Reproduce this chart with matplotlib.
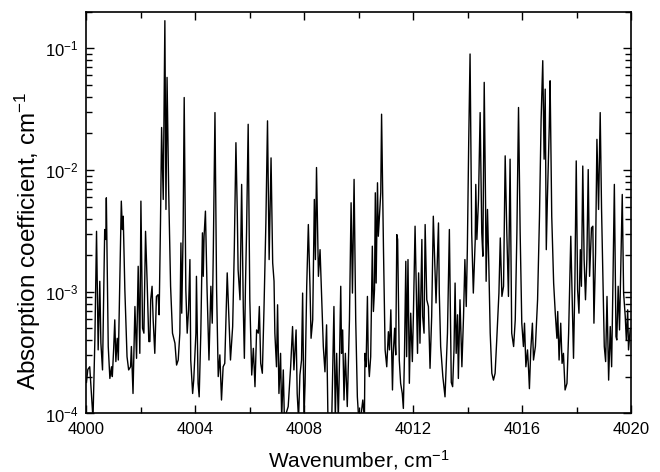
import matplotlib
matplotlib.use("Agg")
import matplotlib.pyplot as plt
from matplotlib.ticker import MultipleLocator, LogLocator, NullFormatter

plt.rcParams['font.family'] = ['Liberation Sans', 'DejaVu Sans']
plt.rcParams['mathtext.fontset'] = 'custom'
plt.rcParams['mathtext.rm'] = 'Liberation Sans'
plt.rcParams['mathtext.it'] = 'Liberation Sans:italic'
plt.rcParams['mathtext.default'] = 'regular'

# spectrum (peaks and valleys), cm-1 / cm-1
wavenumber = [
    4000.00, 4000.05, 4000.12, 4000.24, 4000.31, 4000.37, 4000.43, 4000.49, 4000.53, 4000.59,
    4000.67, 4000.71, 4000.73, 4000.80, 4000.86, 4000.92, 4000.95, 4001.00, 4001.04, 4001.08,
    4001.13, 4001.17, 4001.28, 4001.32, 4001.35, 4001.41, 4001.49, 4001.55, 4001.62, 4001.65,
    4001.71, 4001.78, 4001.84, 4001.90, 4001.96, 4002.00, 4002.06, 4002.11, 4002.17, 4002.23,
    4002.29, 4002.33, 4002.36, 4002.41, 4002.45, 4002.51, 4002.57, 4002.63, 4002.67, 4002.72,
    4002.76, 4002.82, 4002.88, 4002.92, 4002.96, 4003.02, 4003.09, 4003.16, 4003.25, 4003.31,
    4003.37, 4003.43, 4003.47, 4003.50, 4003.55, 4003.59,
    4003.65, 4003.70, 4003.75, 4003.80, 4003.83, 4003.90, 4003.94, 4004.02, 4004.04, 4004.10,
    4004.14, 4004.20, 4004.26, 4004.29, 4004.32, 4004.37, 4004.43, 4004.50, 4004.57, 4004.62,
    4004.66, 4004.72, 4004.78, 4004.84, 4004.90, 4004.96, 4005.02, 4005.08, 4005.17, 4005.23,
    4005.29, 4005.37, 4005.43, 4005.49, 4005.54, 4005.57, 4005.64, 4005.70, 4005.76, 4005.80,
    4005.84, 4005.88, 4005.94, 4006.00, 4006.07, 4006.13, 4006.19, 4006.25, 4006.31, 4006.35,
    4006.40, 4006.46, 4006.52, 4006.59, 4006.65, 4006.71, 4006.78,
    4006.84, 4006.89, 4006.92, 4006.98, 4007.02, 4007.07, 4007.13, 4007.17, 4007.23, 4007.27,
    4007.41, 4007.50, 4007.57, 4007.62, 4007.70, 4007.74, 4007.79, 4007.84, 4007.90, 4007.94,
    4007.99, 4008.03, 4008.09, 4008.15, 4008.21, 4008.25, 4008.31, 4008.37, 4008.41, 4008.45,
    4008.52, 4008.58, 4008.64, 4008.70, 4008.76, 4008.82, 4008.87, 4009.01, 4009.09, 4009.14,
    4009.19, 4009.25, 4009.29, 4009.34, 4009.37, 4009.41, 4009.46, 4009.51, 4009.58, 4009.66,
    4009.72, 4009.77, 4009.83, 4009.89, 4009.95, 4010.00, 4010.07, 4010.15, 4010.21,
    4010.23, 4010.27, 4010.32, 4010.35, 4010.39, 4010.44, 4010.50, 4010.54, 4010.58, 4010.61,
    4010.64, 4010.69, 4010.72, 4010.76, 4010.81, 4010.84, 4010.91, 4010.97, 4011.03, 4011.09,
    4011.13, 4011.18, 4011.24, 4011.27, 4011.32, 4011.36, 4011.40, 4011.43, 4011.49, 4011.54,
    4011.60, 4011.64, 4011.68, 4011.73, 4011.76, 4011.81, 4011.86, 4011.91, 4011.97, 4012.01,
    4012.07, 4012.11, 4012.16, 4012.20, 4012.25, 4012.32, 4012.35, 4012.40, 4012.44, 4012.50,
    4012.56, 4012.62, 4012.68, 4012.74, 4012.80, 4012.84, 4012.93, 4012.96, 4013.01, 4013.09,
    4013.17, 4013.26, 4013.33, 4013.40,
    4013.45, 4013.50, 4013.54, 4013.58, 4013.63, 4013.66, 4013.72, 4013.79, 4013.85, 4013.90,
    4013.95, 4013.99, 4014.04, 4014.09, 4014.15, 4014.21, 4014.28, 4014.30, 4014.34, 4014.40,
    4014.46, 4014.52, 4014.56, 4014.61, 4014.66, 4014.68, 4014.73, 4014.78, 4014.83, 4014.89,
    4014.95, 4015.01, 4015.07, 4015.15, 4015.20, 4015.26, 4015.32, 4015.38, 4015.44, 4015.50,
    4015.56, 4015.62, 4015.69, 4015.75, 4015.81, 4015.87, 4015.93, 4015.99, 4016.05, 4016.09,
    4016.14, 4016.20, 4016.24, 4016.27, 4016.32, 4016.38, 4016.42, 4016.49, 4016.57, 4016.64,
    4016.70, 4016.76,
    4016.81, 4016.85, 4016.89, 4016.93, 4017.00, 4017.03, 4017.09, 4017.16, 4017.22, 4017.28,
    4017.31, 4017.36, 4017.42, 4017.47, 4017.52, 4017.58, 4017.65, 4017.71, 4017.79, 4017.85,
    4017.89, 4017.94, 4017.99, 4018.04, 4018.09, 4018.14, 4018.18, 4018.23, 4018.28, 4018.33,
    4018.38, 4018.43, 4018.48, 4018.55, 4018.60, 4018.64, 4018.70, 4018.75, 4018.81, 4018.87,
    4018.92, 4018.97, 4019.02, 4019.07, 4019.12, 4019.18, 4019.24, 4019.29, 4019.34, 4019.39,
    4019.45, 4019.48, 4019.53, 4019.58, 4019.63, 4019.68, 4019.73, 4019.79, 4019.83, 4019.88,
    4019.91, 4019.97, 4020.00,
]
absorption = [
    1.8e-4, 2.3e-4, 2.42e-4, 9.0e-5, 4.15e-4, 3.14e-3, 3.33e-4, 1.22e-3, 3.78e-4, 2.28e-4,
    3.25e-3, 2.69e-3, 5.92e-3, 3.55e-4, 1.94e-4, 2.42e-4, 2.01e-4, 3.43e-4, 5.88e-4, 2.67e-4,
    4.15e-4, 2.75e-4, 5.56e-3, 3.25e-3, 4.18e-3, 1.04e-3, 2.93e-4, 2.28e-4, 2.42e-4, 3.55e-4,
    1.46e-4, 7.57e-4, 2.84e-4, 1.62e-3, 3.12e-4, 5.56e-3, 5.02e-4, 4.57e-4, 3.14e-3, 1.18e-3,
    3.90e-4, 3.90e-4, 8.60e-4, 1.11e-3, 5.88e-4, 3.12e-4, 9.16e-4, 9.46e-4, 6.47e-4, 3.80e-3,
    2.24e-2, 5.74e-3, 1.69e-1, 4.75e-3, 5.78e-2, 6.72e-3, 1.11e-3, 4.57e-4, 3.78e-4, 2.50e-4,
    2.75e-4, 4.57e-4, 2.52e-3, 6.67e-4, 3.05e-3, 3.95e-2,
    1.04e-3, 4.57e-4, 7.11e-4, 1.84e-3, 2.75e-4, 1.46e-4, 1.88e-4, 4.57e-4, 1.34e-3, 1.77e-4,
    1.37e-4, 4.57e-4, 3.05e-3, 1.34e-3, 2.86e-3, 4.60e-3, 1.04e-3, 2.75e-4, 1.11e-3, 5.52e-4,
    2.22e-3, 2.97e-2, 1.04e-3, 2.01e-4, 3.03e-4, 1.29e-4, 2.42e-4, 2.58e-4, 1.43e-3, 6.26e-4,
    2.75e-4, 5.18e-4, 2.22e-3, 1.68e-2, 4.45e-3, 1.52e-3, 8.60e-4, 7.63e-3, 7.57e-4, 2.84e-4,
    1.11e-3, 3.05e-3, 2.38e-2, 8.60e-4, 2.07e-4, 3.43e-4, 1.66e-4, 4.86e-4, 4.57e-4, 7.57e-4,
    2.58e-4, 2.14e-4, 7.11e-4, 3.68e-3, 2.54e-2, 1.84e-3, 1.26e-2,
    1.73e-3, 1.22e-3, 4.57e-4, 2.42e-4, 7.82e-4, 1.46e-4, 3.12e-4, 9.0e-5, 2.28e-4, 9.0e-5,
    1.14e-4, 2.42e-4, 5.18e-4, 2.28e-4, 4.86e-4, 1.46e-4, 9.0e-5, 2.07e-4, 2.75e-4, 9.76e-4,
    9.0e-5, 1.77e-4, 1.11e-3, 3.57e-3, 1.11e-3, 4.15e-4, 5.88e-4, 5.74e-3, 1.84e-3, 1.05e-2,
    1.34e-3, 2.22e-3, 8.60e-4, 3.55e-4, 2.20e-4, 5.35e-4, 9.0e-5, 9.0e-5, 7.57e-4, 9.0e-5,
    3.12e-4, 9.0e-5, 2.42e-4, 1.11e-3, 3.12e-4, 4.86e-4, 1.29e-4, 3.12e-4, 1.14e-4, 5.88e-4,
    5.39e-3, 9.76e-4, 8.39e-3, 5.88e-4, 1.37e-4, 9.0e-5, 9.0e-5, 1.29e-4, 9.0e-5,
    3.12e-4, 2.42e-4, 9.16e-4, 2.84e-4, 2.01e-4, 2.93e-4, 2.37e-3, 6.89e-4, 1.04e-3, 6.51e-3,
    1.18e-3, 7.87e-3, 2.86e-3, 4.18e-3, 6.51e-3, 2.88e-2, 2.22e-3, 3.33e-4, 2.42e-4, 4.70e-4,
    3.33e-4, 7.11e-4, 1.56e-4, 3.12e-4, 5.02e-4, 3.03e-4, 2.95e-3, 2.69e-3, 2.75e-4, 1.77e-4,
    1.46e-4, 1.10e-4, 2.93e-4, 1.78e-3, 2.93e-4, 1.84e-3, 1.77e-4, 6.67e-4, 2.67e-4, 6.67e-4,
    3.46e-3, 1.18e-3, 3.12e-4, 1.43e-3, 3.78e-4, 2.69e-3, 6.26e-4, 4.57e-4, 3.57e-3, 8.60e-4,
    7.57e-4, 2.35e-4, 6.26e-4, 4.18e-3, 1.52e-3, 8.10e-4, 3.68e-3, 9.76e-4, 3.55e-4, 2.01e-4,
    1.37e-4, 4.57e-4, 3.25e-3, 1.80e-4,
    1.66e-4, 3.33e-4, 1.18e-3, 3.12e-4, 6.47e-4, 1.94e-4, 8.60e-4, 2.42e-4, 6.26e-4, 1.84e-3,
    7.57e-4, 2.22e-3, 1.68e-2, 9.0e-2, 3.05e-3, 9.76e-4, 2.69e-3, 7.63e-3, 2.69e-3, 5.74e-3,
    2.97e-2, 3.05e-3, 1.96e-3, 5.26e-2, 5.06e-3, 1.22e-3, 4.75e-3, 1.62e-3, 4.57e-4, 2.14e-4,
    1.88e-4, 2.14e-4, 4.02e-4, 9.76e-4, 2.77e-3, 9.16e-4, 1.11e-3, 1.31e-2, 3.05e-3, 9.16e-4,
    1.23e-2, 4.57e-4, 3.55e-4, 5.88e-4, 3.05e-3, 3.27e-2, 3.05e-3, 5.52e-4, 3.55e-4, 5.52e-4,
    2.42e-4, 3.33e-4, 2.28e-4, 1.60e-4, 3.33e-4, 5.52e-4, 2.75e-4, 3.55e-4, 8.60e-4, 4.18e-3,
    2.62e-2, 7.93e-2,
    1.23e-2, 4.63e-2, 2.22e-3, 5.74e-3, 2.31e-2, 5.42e-2, 4.18e-3, 1.18e-3, 6.67e-4, 4.15e-4,
    6.89e-4, 2.75e-4, 5.52e-4, 2.58e-4, 3.12e-4, 1.56e-4, 1.77e-4, 4.57e-4, 2.86e-3, 7.11e-4,
    2.84e-4, 1.18e-3, 1.19e-2, 1.04e-3, 6.67e-4, 2.22e-3, 1.11e-3, 1.08e-2, 1.84e-3, 8.60e-4,
    1.84e-3, 1.01e-2, 1.34e-3, 3.35e-3, 3.46e-3, 5.52e-4, 2.08e-3, 1.79e-2, 4.75e-3, 2.97e-2,
    4.75e-3, 1.34e-3, 3.55e-4, 2.67e-4, 9.16e-4, 1.88e-4, 5.18e-4, 2.42e-4, 1.26e-3, 7.63e-3,
    4.29e-4, 4.02e-4, 1.11e-3, 4.86e-4, 1.84e-3, 6.31e-3, 9.76e-4, 6.26e-4, 4.02e-4, 7.11e-4,
    3.33e-4, 4.86e-4, 5.0e-4,
]

fig = plt.figure(figsize=(6.6, 4.72), dpi=100)
ax = fig.add_axes([0.131, 0.124, 0.825, 0.851])

ax.plot(wavenumber, absorption, color='black', linewidth=1.0)

ax.set_yscale('log')
ax.set_xlim(4000, 4020)
ax.set_ylim(1e-4, 0.2)

ax.xaxis.set_major_locator(MultipleLocator(4))
ax.xaxis.set_minor_locator(MultipleLocator(2))
ax.yaxis.set_major_locator(LogLocator(base=10, numticks=10))
ax.yaxis.set_minor_locator(LogLocator(base=10, subs=range(2, 10), numticks=10))
ax.yaxis.set_minor_formatter(NullFormatter())

ax.tick_params(which='both', direction='in', top=True, right=True, labelsize=12, width=1)
ax.tick_params(which='major', length=6, pad=6)
ax.tick_params(which='minor', length=4)
for s in ax.spines.values():
    s.set_linewidth(1.2)

ax.set_xlabel('Wavenumber, cm$^{-1}$', fontsize=15)
ax.set_ylabel('Absorption coefficient, cm$^{-1}$', fontsize=17.5)
ax.xaxis.set_label_coords(0.5, -0.086)
ax.yaxis.set_label_coords(-0.080, 0.43)

fig.savefig('out.png', dpi=100)
